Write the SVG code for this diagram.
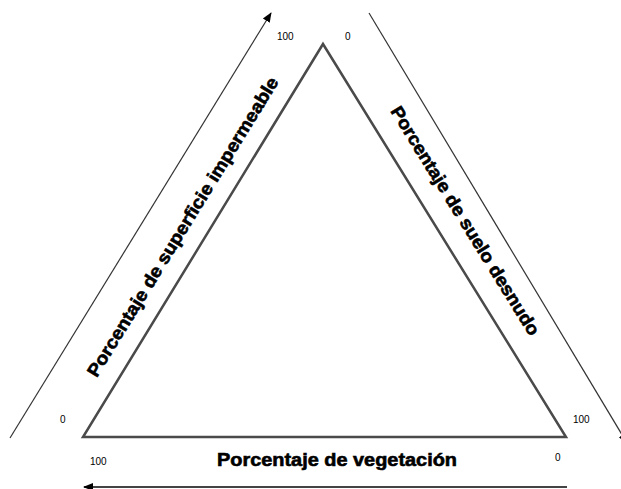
<svg xmlns="http://www.w3.org/2000/svg" width="621" height="489" viewBox="0 0 621 489">
<defs>
<marker id="ah" viewBox="0 0 10 10" refX="9" refY="5" markerWidth="10" markerHeight="10" markerUnits="userSpaceOnUse" orient="auto">
<path d="M0,1 L10,5 L0,9 Z" fill="#000"/>
</marker>
<style>
.tri{fill:#fff;stroke:#4a4a4a;stroke-width:2.5;stroke-linejoin:miter}
.ax{stroke:#333;stroke-width:1.2;fill:none}
.axb{stroke:#444;stroke-width:2;fill:none}
.num{font-family:"Liberation Sans",Arial,sans-serif;font-size:10px;fill:#000}
.lbl{font-family:"Liberation Sans",Arial,sans-serif;font-size:18px;font-weight:bold;fill:#000;stroke:#000;stroke-width:0.6;text-anchor:middle}
</style>
</defs>
<rect width="621" height="489" fill="#fff"/>
<g id="connectors">
<line class="ax" x1="10" y1="438" x2="271" y2="13" marker-end="url(#ah)"/>
<line class="ax" x1="369" y1="13" x2="627" y2="443" marker-end="url(#ah)"/>
<line class="axb" x1="567" y1="487" x2="84" y2="487" marker-end="url(#ah)"/>
</g>
<g id="triangle">
<polygon class="tri" points="323,44 566,437 83,437"/>
</g>
<g id="numbers">
<text class="num" x="277" y="40">100</text>
<text class="num" x="345" y="40">0</text>
<text class="num" x="60" y="423">0</text>
<text class="num" x="90" y="465">100</text>
<text class="num" x="573" y="423">100</text>
<text class="num" x="555" y="461">0</text>
</g>
<g id="label-impermeable">
<text class="lbl" transform="translate(188,230) rotate(-58.4)" textLength="348" lengthAdjust="spacingAndGlyphs">Porcentaje de superficie impermeable</text>
</g>
<g id="label-suelo">
<text class="lbl" transform="translate(460,224) rotate(58.2)" textLength="266" lengthAdjust="spacingAndGlyphs">Porcentaje de suelo desnudo</text>
</g>
<g id="label-vegetacion">
<text class="lbl" x="337" y="466" textLength="240" lengthAdjust="spacingAndGlyphs">Porcentaje de vegetación</text>
</g>
</svg>
